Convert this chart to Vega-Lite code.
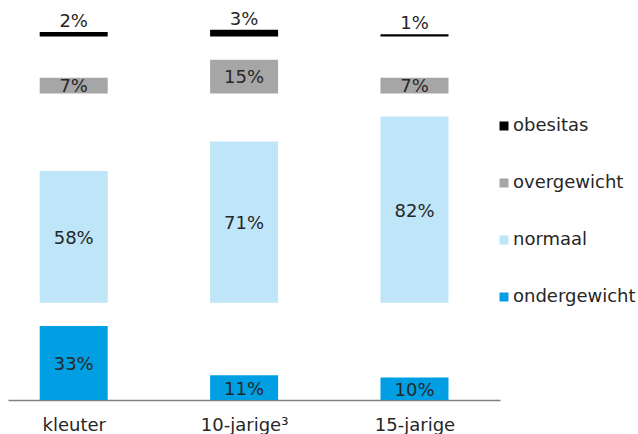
{
  "$schema": "https://vega.github.io/schema/vega-lite/v6.json",
  "width": 492,
  "height": 400,
  "autosize": {"type": "none"},
  "padding": {"left": 8, "top": 0, "right": 138, "bottom": 34},
  "background": "white",
  "data": {
    "values": [
      {"leeftijd": "kleuter", "categorie": "ondergewicht", "waarde": 0.33},
      {"leeftijd": "kleuter", "categorie": "normaal", "waarde": 0.58},
      {"leeftijd": "kleuter", "categorie": "overgewicht", "waarde": 0.07},
      {"leeftijd": "kleuter", "categorie": "obesitas", "waarde": 0.02},
      {"leeftijd": "10-jarige³", "categorie": "ondergewicht", "waarde": 0.11},
      {"leeftijd": "10-jarige³", "categorie": "normaal", "waarde": 0.71},
      {"leeftijd": "10-jarige³", "categorie": "overgewicht", "waarde": 0.15},
      {"leeftijd": "10-jarige³", "categorie": "obesitas", "waarde": 0.03},
      {"leeftijd": "15-jarige", "categorie": "ondergewicht", "waarde": 0.10},
      {"leeftijd": "15-jarige", "categorie": "normaal", "waarde": 0.82},
      {"leeftijd": "15-jarige", "categorie": "overgewicht", "waarde": 0.07},
      {"leeftijd": "15-jarige", "categorie": "obesitas", "waarde": 0.01}
    ]
  },
  "encoding": {
    "x": {
      "field": "leeftijd", "type": "nominal",
      "sort": ["kleuter", "10-jarige³", "15-jarige"],
      "scale": {"type": "point", "padding": 0.4437, "align": 0.4345},
      "axis": {"title": null, "labelAngle": 0}
    }
  },
  "layer": [
    {
      "transform": [{"filter": "datum.categorie === 'ondergewicht'"}],
      "mark": {"type": "bar", "width": 68},
      "encoding": {
        "y": {"field": "waarde", "type": "quantitative", "scale": {"domain": [0, 1.786], "nice": false}, "axis": null},
        "y2": {"datum": 0},
        "color": {
          "field": "categorie", "type": "nominal",
          "scale": {"domain": ["obesitas", "overgewicht", "normaal", "ondergewicht"], "range": ["#000000", "#a6a6a6", "#bfe5f8", "#009fe3"]},
          "legend": {"title": null}
        }
      }
    },
    {
      "transform": [{"filter": "datum.categorie === 'normaal'"}],
      "mark": {"type": "bar", "width": 68},
      "encoding": {
        "y": {"field": "waarde", "type": "quantitative", "scale": {"domain": [-0.4286, 1.3336], "nice": false}, "axis": null},
        "y2": {"datum": 0},
        "color": {"field": "categorie", "type": "nominal"}
      }
    },
    {
      "transform": [{"filter": "datum.categorie === 'overgewicht'"}],
      "mark": {"type": "bar", "width": 68},
      "encoding": {
        "y": {"field": "waarde", "type": "quantitative", "scale": {"domain": [-1.369, 0.417], "nice": false}, "axis": null},
        "y2": {"datum": 0},
        "color": {"field": "categorie", "type": "nominal"}
      }
    },
    {
      "transform": [{"filter": "datum.categorie === 'obesitas'"}],
      "mark": {"type": "bar", "width": 68},
      "encoding": {
        "y": {"field": "waarde", "type": "quantitative", "scale": {"domain": [-1.623, 0.163], "nice": false}, "axis": null},
        "y2": {"datum": 0},
        "color": {"field": "categorie", "type": "nominal"}
      }
    },
    {
      "transform": [{"filter": "datum.categorie === 'ondergewicht'"}],
      "mark": {"type": "text", "baseline": "middle", "dy": 2, "font": "DejaVu Sans", "fontSize": 18, "color": "#262626"},
      "encoding": {
        "y": {"field": "waarde", "type": "quantitative", "scale": {"domain": [0, 3.572], "nice": false}, "axis": null},
        "text": {"field": "waarde", "type": "quantitative", "format": ".0%"}
      }
    },
    {
      "transform": [{"filter": "datum.categorie === 'normaal'"}],
      "mark": {"type": "text", "baseline": "middle", "dy": 2, "font": "DejaVu Sans", "fontSize": 18, "color": "#262626"},
      "encoding": {
        "y": {"field": "waarde", "type": "quantitative", "scale": {"domain": [-0.8572, 2.6672], "nice": false}, "axis": null},
        "text": {"field": "waarde", "type": "quantitative", "format": ".0%"}
      }
    },
    {
      "transform": [{"filter": "datum.categorie === 'overgewicht'"}],
      "mark": {"type": "text", "baseline": "middle", "dy": 1, "font": "DejaVu Sans", "fontSize": 18, "color": "#262626"},
      "encoding": {
        "y": {"field": "waarde", "type": "quantitative", "scale": {"domain": [-2.738, 0.834], "nice": false}, "axis": null},
        "text": {"field": "waarde", "type": "quantitative", "format": ".0%"}
      }
    },
    {
      "transform": [{"filter": "datum.categorie === 'obesitas'"}],
      "mark": {"type": "text", "baseline": "alphabetic", "dy": -5, "font": "DejaVu Sans", "fontSize": 18, "color": "#262626"},
      "encoding": {
        "y": {"field": "waarde", "type": "quantitative", "scale": {"domain": [-1.623, 0.163], "nice": false}, "axis": null},
        "text": {"field": "waarde", "type": "quantitative", "format": ".0%"}
      }
    }
  ],
  "resolve": {"scale": {"y": "independent"}},
  "config": {
    "view": {"stroke": null},
    "axisX": {
      "labelFont": "DejaVu Sans", "labelFontSize": 18, "labelColor": "#262626",
      "domainColor": "#808080", "domainWidth": 1.5, "ticks": false, "labelPadding": 16, "grid": false
    },
    "legend": {
      "orient": "none", "legendX": 487, "legendY": 117, "padding": 0,
      "labelFont": "DejaVu Sans", "labelFontSize": 18, "labelColor": "#262626",
      "symbolType": "square", "symbolSize": 81, "symbolStrokeWidth": 0, "rowPadding": 39, "labelOffset": 0
    }
  }
}
